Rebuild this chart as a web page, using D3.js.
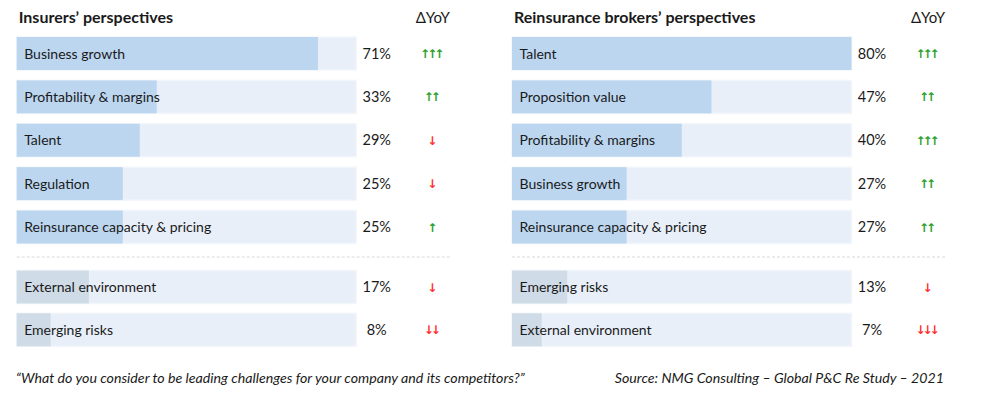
<!DOCTYPE html>
<html>
<head>
<meta charset="utf-8">
<script src="https://cdn.jsdelivr.net/npm/d3@7"></script>
<style>
  body { margin: 0; background: #fff; }
  text { font-family: Lato, "Open Sans", sans-serif; fill: #1a1a1a; }
  .title { font-weight: bold; font-size: 16px; }
  .label { font-size: 14px; }
  .pct { font-size: 14.5px; }
  .head { font-size: 15px; }
  .note { font-style: italic; font-size: 14.2px; }
</style>
</head>
<body>
<div id="chart"></div>
<script>
// panel data (top group = 5 rows, bottom group = 2 rows)
const insurerLabels = ["Business growth", "Profitability & margins", "Talent", "Regulation",
  "Reinsurance capacity & pricing", "External environment", "Emerging risks"];
const insurerValues = [71, 33, 29, 25, 25, 17, 8];
const insurerYoY = [3, 2, -1, -1, 1, -1, -2];

const brokerLabels = ["Talent", "Proposition value", "Profitability & margins", "Business growth",
  "Reinsurance capacity & pricing", "Emerging risks", "External environment"];
const brokerValues = [80, 47, 40, 27, 27, 13, 7];
const brokerYoY = [3, 2, 3, 2, 2, -1, -3];

const titles = ["Insurers\u2019 perspectives", "Reinsurance brokers\u2019 perspectives"];

const W = 986, H = 396;
const svg = d3.select("#chart").append("svg")
    .attr("width", W).attr("height", H);

const trackW = 339.5, rowH = 33;
// row positions: 5 top rows, gap, 2 bottom rows
const rowY = d3.scaleLinear().domain([0, 4]).range([37, 210.5]);
const rowTop = i => i < 5 ? rowY(i) : 270.5 + (i - 5) * 42.8;

function drawPanel(x0, title, labels, values, yoy) {
  const g = svg.append("g").attr("transform", `translate(${x0},0)`);
  const x = d3.scaleLinear().domain([0, 80]).range([0, trackW]);

  g.append("text").attr("class", "title")
    .attr("x", 2).attr("y", 23).text(title);
  g.append("text").attr("class", "head")
    .attr("x", 416).attr("y", 23).attr("text-anchor", "middle").text("\u0394YoY");

  const rows = g.selectAll("g.row").data(labels.map((l, i) => ({ l, v: values[i], d: yoy[i], i })))
    .enter().append("g").attr("class", "row")
    .attr("transform", d => `translate(0,${rowTop(d.i)})`);

  rows.append("rect")
    .attr("x", 0).attr("y", 0)
    .attr("width", x(80)).attr("height", rowH)
    .attr("fill", "#e8eff8")
    .attr("stroke", "#f2f6fb").attr("stroke-width", 1.5);

  rows.append("rect")
    .attr("x", 0).attr("y", 0)
    .attr("width", d => x(d.v)).attr("height", rowH)
    .attr("fill", d => d.i < 5 ? "#bcd6f0" : "#cfdbe7");

  rows.append("text").attr("class", "label")
    .attr("x", 7.5).attr("y", rowH / 2 + 5).text(d => d.l);

  rows.append("text").attr("class", "pct")
    .attr("x", 360).attr("y", rowH / 2 + 5)
    .attr("text-anchor", "middle").text(d => d.v + "%");

  rows.append("text")
    .attr("x", 414).attr("y", rowH / 2 + 4.5)
    .attr("text-anchor", "middle")
    .style("font-family", "'DejaVu Sans'")
    .style("font-size", "12px")
    .style("font-weight", "bold")
    .style("letter-spacing", "-3px")
    .style("fill", d => d.d > 0 ? "#2ca02c" : "#ff3030")
    .text(d => (d.d > 0 ? "\u2191" : "\u2193").repeat(Math.abs(d.d)));

  g.append("line")
    .attr("x1", 0).attr("x2", 433.5)
    .attr("y1", 257).attr("y2", 257)
    .attr("stroke", "#d9d9d9").attr("stroke-dasharray", "3,2");
}

drawPanel(16.7, titles[0], insurerLabels, insurerValues, insurerYoY);
drawPanel(512, titles[1], brokerLabels, brokerValues, brokerYoY);

svg.append("text").attr("class", "note")
  .attr("x", 16).attr("y", 383)
  .text("\u201cWhat do you consider to be leading challenges for your company and its competitors?\u201d");
svg.append("text").attr("class", "note")
  .attr("x", 944).attr("y", 383).attr("text-anchor", "end")
  .text("Source: NMG Consulting \u2013 Global P&C Re Study \u2013 2021");
</script>
</body>
</html>
